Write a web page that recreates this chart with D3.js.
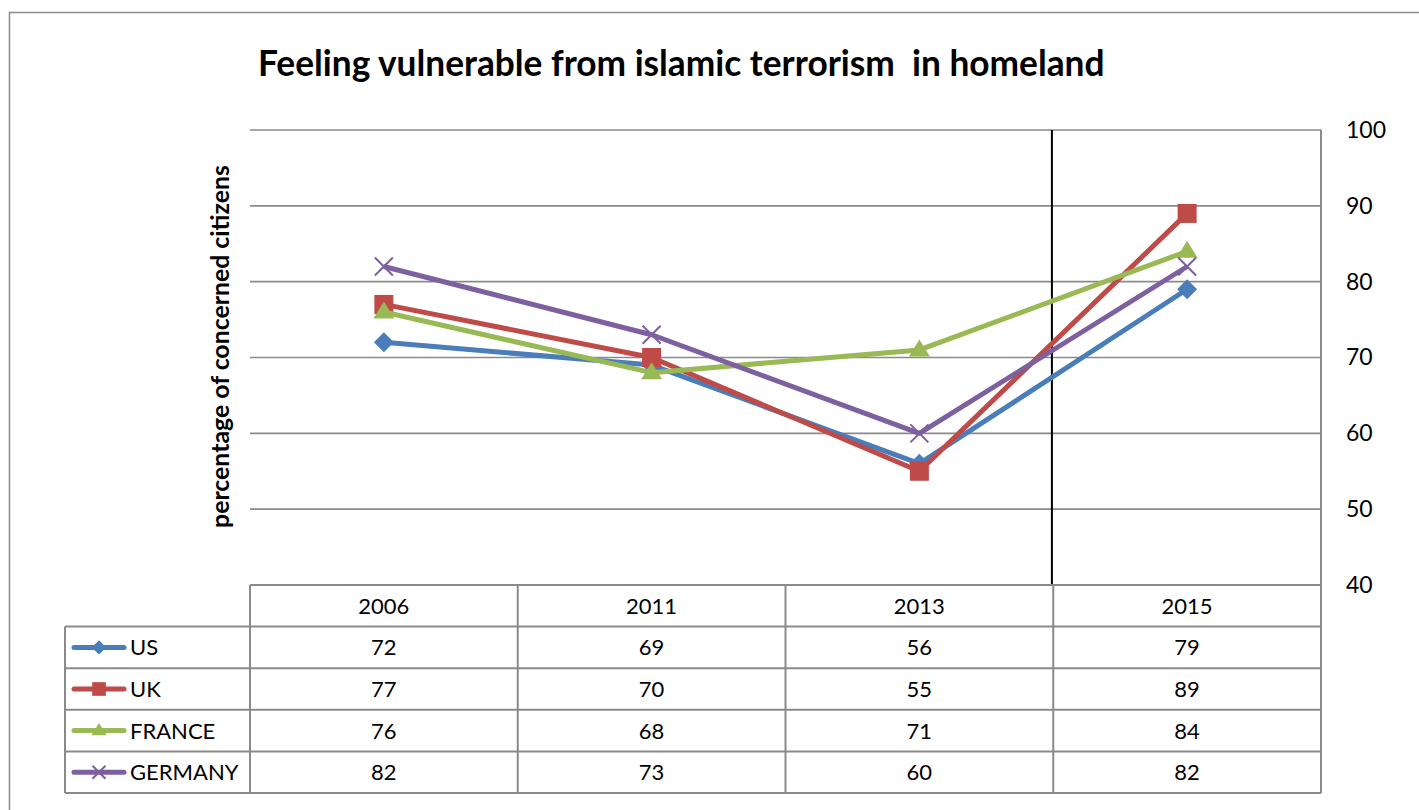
<!DOCTYPE html>
<html>
<head>
<meta charset="utf-8">
<script src="https://cdn.jsdelivr.net/npm/d3@7"></script>
<style>
  html, body { margin: 0; padding: 0; background: #fff; }
  svg { display: block; font-family: Lato, "Open Sans", sans-serif; }
</style>
</head>
<body>
<svg id="chart" width="1419" height="810"></svg>
<script>
// Survey years and per-country shares of concerned citizens (%)
const years = ["2006", "2011", "2013", "2015"];
const seriesNames = ["US", "UK", "FRANCE", "GERMANY"];
const usValues = [72, 69, 56, 79];
const ukValues = [77, 70, 55, 89];
const franceValues = [76, 68, 71, 84];
const germanyValues = [82, 73, 60, 82];
const yTicks = [40, 50, 60, 70, 80, 90, 100];
const markerYear = "2013";

const series = [
  { name: seriesNames[0], values: usValues, color: "#4A7EBB", symbol: "diamond" },
  { name: seriesNames[1], values: ukValues, color: "#BE4B48", symbol: "square" },
  { name: seriesNames[2], values: franceValues, color: "#98B954", symbol: "triangle" },
  { name: seriesNames[3], values: germanyValues, color: "#7D60A0", symbol: "cross" }
];

const svg = d3.select("#chart");
const W = 1419, H = 810;

const plot = { left: 250, right: 1321, top: 130, bottom: 585 };
const rowH = 41.6;
const legendLeft = 65;
const gridColor = "#8a8a8a";

// outer chart frame (runs past the right and bottom edges)
svg.append("rect")
  .attr("x", 9.5).attr("y", 12.5)
  .attr("width", W + 20).attr("height", H + 20)
  .attr("fill", "none").attr("stroke", "#8c8c8c").attr("stroke-width", 1.5);

const x = d3.scaleBand().domain(years).range([plot.left, plot.right]).padding(0);
const y = d3.scaleLinear().domain([40, 100]).range([plot.bottom, plot.top]);

// horizontal gridlines
svg.append("g")
  .selectAll("line")
  .data(yTicks)
  .join("line")
  .attr("x1", plot.left).attr("x2", plot.right)
  .attr("y1", d => y(d)).attr("y2", d => y(d))
  .attr("stroke", gridColor).attr("stroke-width", 1.6);

// right-hand value axis
const yAxis = svg.append("g")
  .attr("transform", `translate(${plot.right},0)`)
  .call(d3.axisRight(y).tickValues(yTicks).tickSize(0).tickPadding(25));
yAxis.select(".domain").remove();
yAxis.selectAll("text")
  .attr("font-family", "Lato, 'Open Sans', sans-serif")
  .attr("font-size", 23).attr("fill", "#000");

// right border of plot + table
svg.append("line")
  .attr("x1", plot.right).attr("x2", plot.right)
  .attr("y1", plot.top).attr("y2", plot.bottom + rowH * 5)
  .attr("stroke", gridColor).attr("stroke-width", 2);

// vertical reference line between 2013 and 2015
const refX = x(markerYear) + x.bandwidth() * 0.995;
svg.append("line")
  .attr("x1", refX).attr("x2", refX)
  .attr("y1", plot.top).attr("y2", plot.bottom)
  .attr("stroke", "#000").attr("stroke-width", 2);

// data table below the plot
const table = svg.append("g").attr("stroke", gridColor).attr("stroke-width", 2);
const tableBottom = plot.bottom + rowH * 5;
table.append("line")
  .attr("x1", plot.left).attr("x2", plot.right)
  .attr("y1", plot.bottom).attr("y2", plot.bottom);
d3.range(1, 6).forEach(i => {
  table.append("line")
    .attr("x1", legendLeft).attr("x2", plot.right)
    .attr("y1", plot.bottom + rowH * i).attr("y2", plot.bottom + rowH * i);
});
table.append("line")
  .attr("x1", legendLeft).attr("x2", legendLeft)
  .attr("y1", plot.bottom + rowH).attr("y2", tableBottom);
years.forEach(yr => {
  table.append("line")
    .attr("x1", x(yr)).attr("x2", x(yr))
    .attr("y1", plot.bottom).attr("y2", tableBottom);
});

const cellFont = 22;
// year headers
svg.append("g")
  .selectAll("text")
  .data(years)
  .join("text")
  .attr("x", d => x(d) + x.bandwidth() / 2)
  .attr("y", plot.bottom + rowH / 2)
  .attr("dy", "0.36em")
  .attr("text-anchor", "middle")
  .attr("font-size", cellFont)
  .text(d => d);

// marker outlines, unit scale
function markerPath(kind, k) {
  const p = d3.path();
  if (kind === "diamond") {
    const r = 10 * k;
    p.moveTo(0, -r); p.lineTo(r, 0); p.lineTo(0, r); p.lineTo(-r, 0); p.closePath();
  } else if (kind === "square") {
    const r = 9.5 * k;
    p.rect(-r, -r, 2 * r, 2 * r);
  } else if (kind === "triangle") {
    const hw = 10.5 * k, h = 17 * k;
    p.moveTo(0, -h * 0.62); p.lineTo(hw, h * 0.38); p.lineTo(-hw, h * 0.38); p.closePath();
  } else {
    const r = 9 * k;
    p.moveTo(-r, -r); p.lineTo(r, r); p.moveTo(r, -r); p.lineTo(-r, r);
  }
  return p.toString();
}

function drawMarker(g, s, cx, cy, k) {
  const m = g.append("path")
    .attr("d", markerPath(s.symbol, k))
    .attr("transform", `translate(${cx},${cy})`);
  if (s.symbol === "cross") {
    m.attr("fill", "none").attr("stroke", s.color).attr("stroke-width", 2);
  } else {
    m.attr("fill", s.color).attr("stroke", "none");
  }
}

// table rows: legend key + values
series.forEach((s, i) => {
  const cy = plot.bottom + rowH * (i + 1) + rowH / 2;
  const row = svg.append("g");
  row.append("line")
    .attr("x1", 74).attr("x2", 124)
    .attr("y1", cy).attr("y2", cy)
    .attr("stroke", s.color).attr("stroke-width", 5).attr("stroke-linecap", "round");
  drawMarker(row, s, 99, cy, 0.72);
  row.append("text")
    .attr("x", 130).attr("y", cy).attr("dy", "0.36em")
    .attr("font-size", cellFont)
    .text(s.name);
  row.selectAll("text.val")
    .data(s.values)
    .join("text")
    .attr("class", "val")
    .attr("x", (d, j) => x(years[j]) + x.bandwidth() / 2)
    .attr("y", cy).attr("dy", "0.36em")
    .attr("text-anchor", "middle")
    .attr("font-size", cellFont)
    .text(d => d);
});

// series lines and markers
const line = d3.line()
  .x((d, j) => x(years[j]) + x.bandwidth() / 2)
  .y(d => y(d));

series.forEach(s => {
  const g = svg.append("g");
  g.append("path")
    .datum(s.values)
    .attr("d", line)
    .attr("fill", "none")
    .attr("stroke", s.color)
    .attr("stroke-width", 5)
    .attr("stroke-linejoin", "round");
  s.values.forEach((v, j) => drawMarker(g, s, x(years[j]) + x.bandwidth() / 2, y(v), 1));
});

// fit a text element's font size to a target width
function fitWidth(sel, target) {
  const base = +sel.attr("font-size");
  const w = sel.node().getComputedTextLength();
  sel.attr("font-size", base * target / w);
}

// chart title
const title = svg.append("text")
  .attr("x", 258).attr("y", 76)
  .attr("font-size", 30).attr("font-weight", "bold")
  .attr("xml:space", "preserve")
  .text("Feeling vulnerable from islamic terrorism  in homeland");
fitWidth(title, 847);

// axis title
const yTitle = svg.append("text")
  .attr("transform", `translate(229,${(165 + 528) / 2}) rotate(-90)`)
  .attr("text-anchor", "middle")
  .attr("font-size", 20).attr("font-weight", "bold")
  .text("percentage of concerned citizens");
fitWidth(yTitle, 363);
</script>
</body>
</html>
